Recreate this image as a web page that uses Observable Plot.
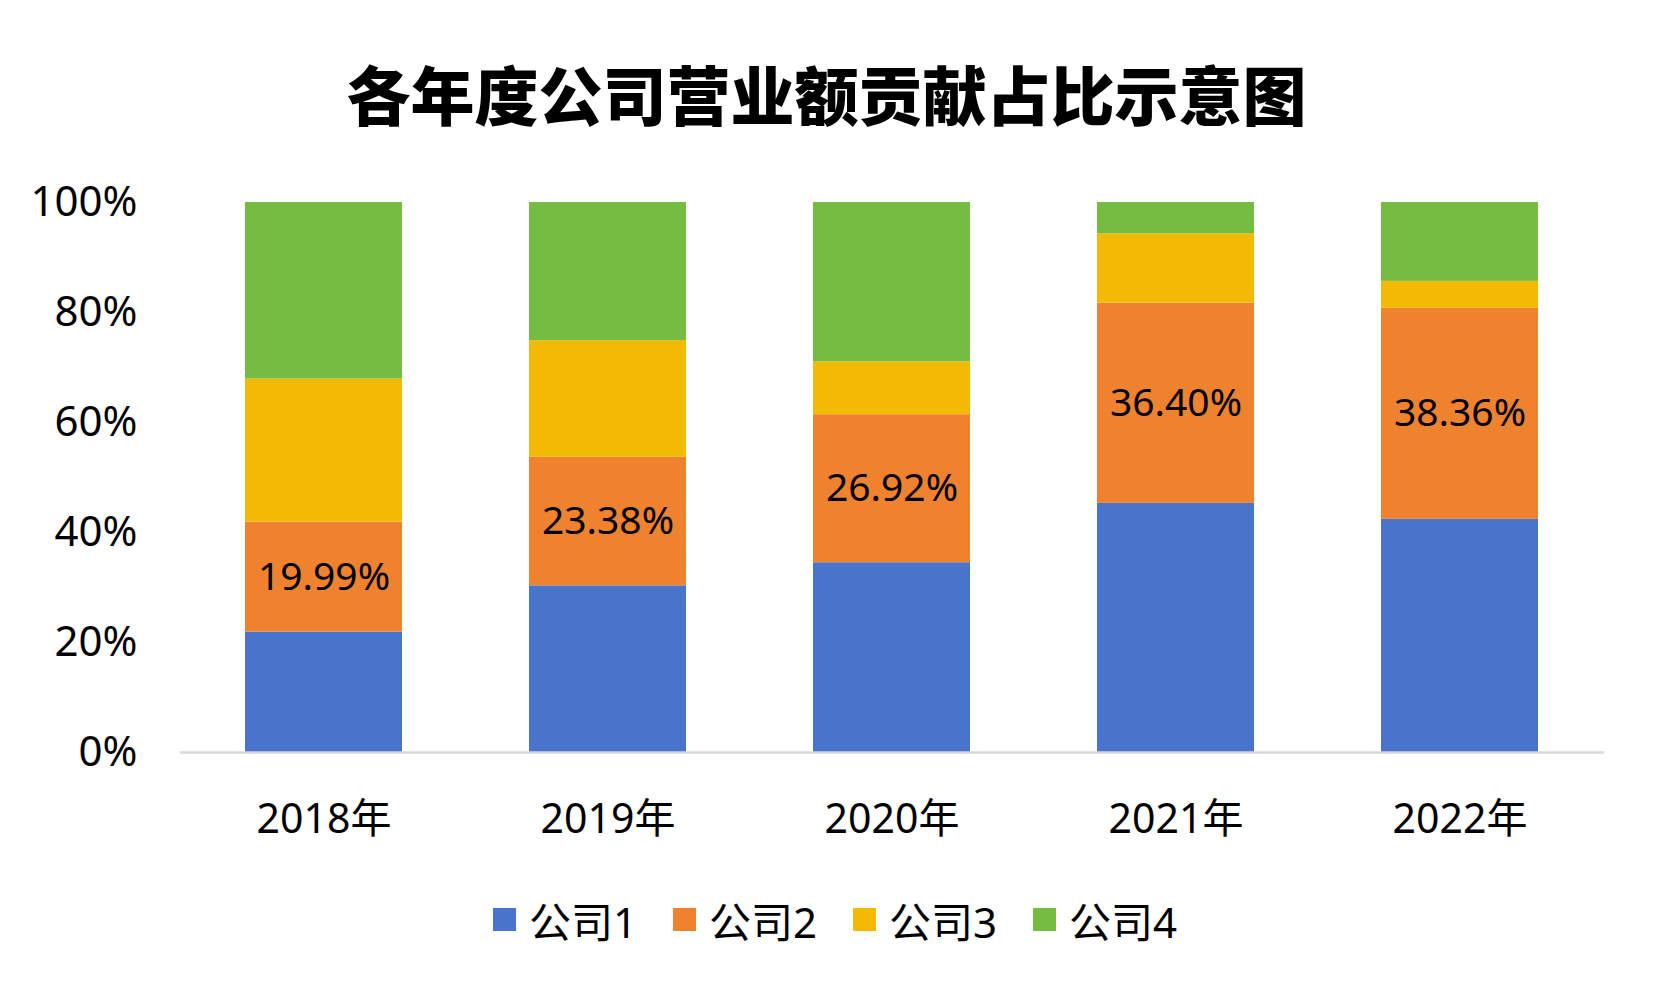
<!DOCTYPE html>
<html>
<head>
<meta charset="utf-8">
<script src="https://cdn.jsdelivr.net/npm/d3@7"></script>
<script src="https://cdn.jsdelivr.net/npm/@observablehq/plot@0.6"></script>
<style>
  html, body { margin: 0; padding: 0; background: #fff; }
  #wrap { position: relative; width: 1653px; height: 991px; overflow: hidden; font-family: "Noto Sans", "Noto Sans CJK SC", sans-serif; }
  #title { position: absolute; left: 0; top: 60px; width: 1653px; text-align: center; font-family: "Noto Sans CJK SC", sans-serif; font-weight: 900; font-size: 64px; line-height: 64px; color: #000; }
  #chart { position: absolute; left: 0; top: 150px; }
  #legend { position: absolute; left: 493px; top: 889px; }
  .lg-swatch { margin-right: 36px !important; color: #000; }
  .lg-swatch > svg { margin-right: 13px !important; }
</style>
</head>
<body>
<div id="wrap">
  <div id="title">各年度公司营业额贡献占比示意图</div>
  <div id="chart"></div>
  <div id="legend"></div>
</div>
<script>
const years = ["2018年", "2019年", "2020年", "2021年", "2022年"];
const companies = ["公司1", "公司2", "公司3", "公司4"];
const company1 = [21.9, 30.3, 34.5, 45.3, 42.4];
const company2 = [19.99, 23.38, 26.92, 36.40, 38.36];
const company3 = [26.0, 21.2, 9.6, 12.6, 4.9];
const company4 = [32.11, 25.12, 28.98, 5.7, 14.34];
const colors = ["#4874CB", "#EE822F", "#F2BA02", "#75BD42"];
const yTicks = [0, 20, 40, 60, 80, 100];
const labelledCompany = "公司2";

const series = [company1, company2, company3, company4];
const data = years.flatMap((year, i) =>
  companies.map((company, j) => ({year, company, value: series[j][i]}))
);

const fontFamily = '"Noto Sans", "Noto Sans CJK SC", sans-serif';

const chart = Plot.plot({
  width: 1653,
  height: 702,
  marginTop: 52,
  marginLeft: 180,
  marginRight: 49,
  marginBottom: 100,
  style: {fontFamily, fontSize: "38px", color: "#000", background: "#fff", overflow: "visible"},
  x: {domain: years, paddingInner: 0.446, paddingOuter: 0.223},
  y: {domain: [0, 100]},
  color: {domain: companies, range: colors},
  marks: [
    Plot.barY(data, {x: "year", y: "value", fill: "company", z: "company", order: companies}),
    Plot.ruleY([0], {stroke: "#d9d9d9", strokeWidth: 2.5}),
    Plot.axisY({ticks: yTicks, tickFormat: d => d + "%", label: null, tickSize: 0, tickPadding: 43, fontSize: 42, fill: "#000"}),
    Plot.axisX({label: null, tickSize: 0, tickPadding: 51, fontSize: 41, fill: "#000"}),
    Plot.text(data, Plot.stackY({
      x: "year",
      y: "value",
      z: "company",
      order: companies,
      text: d => d.company === labelledCompany ? d.value.toFixed(2) + "%" : "",
      fontSize: 39,
      fill: "#000"
    }))
  ]
});
document.getElementById("chart").appendChild(chart);

const legend = Plot.legend({
  color: {domain: companies, range: colors, type: "ordinal"},
  legend: "swatches",
  swatchSize: 23,
  className: "lg",
  style: {fontFamily, fontSize: "42px", color: "#000"}
});
document.getElementById("legend").appendChild(legend);
</script>
</body>
</html>
